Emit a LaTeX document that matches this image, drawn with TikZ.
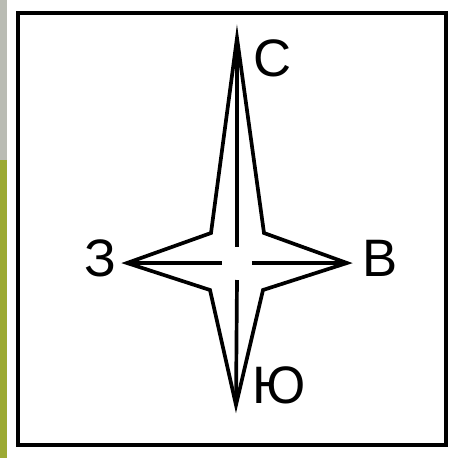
\documentclass[tikz,border=0pt]{standalone}
\usepackage{fontspec}
\setmainfont{Liberation Sans}
\usepackage{tikz}
\usetikzlibrary{positioning, calc}

\definecolor{stripgray}{RGB}{186,188,180}
\definecolor{stripgreen}{RGB}{156,170,52}

\begin{document}
\begin{tikzpicture}[x=0.02cm, y=-0.02cm, line join=miter,
  lbl/.style={inner sep=0pt, font=\fontsize{30}{30}\selectfont},
  star/.style={line width=2.1pt}]
\useasboundingbox (0,0) rectangle (457,458);
\fill[stripgray] (0,0) rectangle (7,160);
\fill[stripgreen] (0,160) rectangle (7,458);
\draw[line width=2pt] (18,13) rectangle (446,445);
% star points
\coordinate (n) at (237,38);
\coordinate (e) at (347,263);
\coordinate (s) at (236,405);
\coordinate (w) at (127,263);
\coordinate (ne) at (264,233);
\coordinate (se) at (263,290);
\coordinate (sw) at (210,290);
\coordinate (nw) at (211,233);
\coordinate (c1) at (237,247);
\coordinate (c2) at (237,280);
\coordinate (c3) at (222,263);
\coordinate (c4) at (252,263);
\draw[star] (n) -- (ne) -- (e) -- (se) -- (s) -- (sw) -- (w) -- (nw) -- cycle;
\draw[star] (n) -- (c1);
\draw[star] (c2) -- (s);
\draw[star] (w) -- (c3);
\draw[star] (c4) -- (e);
% solid tips
\fill (n) -- ($(n)!0.14!(ne)$) -- ($(n)!0.14!(nw)$) -- cycle;
\fill (s) -- ($(s)!0.12!(se)$) -- ($(s)!0.12!(sw)$) -- cycle;
\fill (w) -- ($(w)!0.14!(nw)$) -- ($(w)!0.14!(sw)$) -- cycle;
\fill (e) -- ($(e)!0.14!(ne)$) -- ($(e)!0.14!(se)$) -- cycle;
% labels
\node[lbl] (north) at (273,58) {С};
\node[lbl] (east) at (380,258) {В};
\node[lbl] (south) at (279,385) {Ю};
\node[lbl] (west) at (100,258) {З};
\end{tikzpicture}
\end{document}
